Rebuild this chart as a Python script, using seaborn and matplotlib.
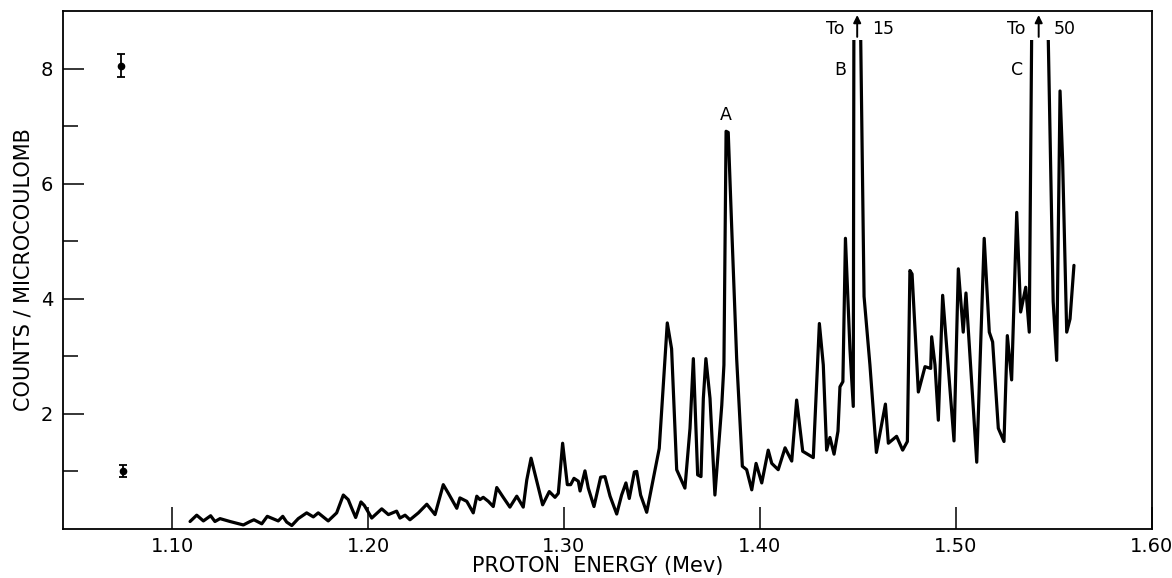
import numpy as np
import pandas as pd
import seaborn as sns
import matplotlib.pyplot as plt
from matplotlib.patches import Rectangle

# proton energy (MeV) and yield
energy = [
    1.1092, 1.1126, 1.1160, 1.1197, 1.1219, 1.1245, 1.1296, 1.1364, 1.1398, 1.1418,
    1.1458, 1.1486, 1.1542, 1.1565, 1.1585, 1.1611, 1.1644, 1.1687, 1.1721, 1.1746,
    1.1797, 1.1840, 1.1874, 1.1899, 1.1917, 1.1937, 1.1964, 1.1981, 1.2019, 1.2070,
    1.2104, 1.2146, 1.2163, 1.2189, 1.2214, 1.2257, 1.2300, 1.2342, 1.2384, 1.2410,
    1.2453, 1.2469, 1.2504, 1.2537, 1.2555, 1.2571, 1.2588, 1.2614, 1.2639, 1.2657,
    1.2690, 1.2724, 1.2759, 1.2792, 1.2810, 1.2832, 1.2861, 1.2891, 1.2925, 1.2954,
    1.2971, 1.2993, 1.3017, 1.3034, 1.3051, 1.3073, 1.3082, 1.3107, 1.3124, 1.3153,
    1.3187, 1.3209, 1.3235, 1.3269, 1.3294, 1.3316, 1.3333, 1.3359, 1.3371, 1.3391,
    1.3422, 1.3486, 1.3527, 1.3549, 1.3575, 1.3617, 1.3643, 1.3660, 1.3682, 1.3699,
    1.3711, 1.3724, 1.3745, 1.3770, 1.3805, 1.3816, 1.3827, 1.3838, 1.3856, 1.3881,
    1.3910, 1.3932, 1.3958, 1.3980, 1.4009, 1.4042, 1.4060, 1.4093, 1.4128, 1.4162,
    1.4187, 1.4218, 1.4272, 1.4303, 1.4323, 1.4340, 1.4357, 1.4378, 1.4398, 1.4408,
    1.4423, 1.4436, 1.4459, 1.4476, 1.4479, 1.4495, 1.4514, 1.4531, 1.4561, 1.4594,
    1.4640, 1.4655, 1.4697, 1.4728, 1.4752, 1.4765, 1.4776, 1.4808, 1.4842, 1.4871,
    1.4876, 1.4893, 1.4910, 1.4932, 1.4990, 1.5012, 1.5037, 1.5051, 1.5106, 1.5144,
    1.5170, 1.5187, 1.5216, 1.5245, 1.5262, 1.5284, 1.5310, 1.5330, 1.5356, 1.5374,
    1.5386, 1.5429, 1.5471, 1.5496, 1.5514, 1.5531, 1.5544, 1.5565, 1.5582, 1.5602,
]
counts = [
    0.13, 0.24, 0.14, 0.23, 0.13, 0.18, 0.13, 0.07, 0.13, 0.16,
    0.09, 0.22, 0.14, 0.22, 0.12, 0.06, 0.18, 0.28, 0.21, 0.28,
    0.14, 0.28, 0.59, 0.51, 0.36, 0.20, 0.47, 0.41, 0.19, 0.35,
    0.25, 0.31, 0.19, 0.24, 0.16, 0.28, 0.43, 0.25, 0.77, 0.62,
    0.36, 0.54, 0.48, 0.28, 0.57, 0.51, 0.55, 0.48, 0.39, 0.72,
    0.55, 0.38, 0.57, 0.38, 0.85, 1.23, 0.83, 0.42, 0.65, 0.55,
    0.62, 1.49, 0.77, 0.77, 0.88, 0.83, 0.66, 1.01, 0.71, 0.39,
    0.90, 0.91, 0.57, 0.26, 0.59, 0.80, 0.53, 0.99, 1.00, 0.59,
    0.29, 1.40, 3.58, 3.13, 1.03, 0.71, 1.75, 2.96, 0.94, 0.91,
    2.27, 2.96, 2.27, 0.59, 2.15, 2.85, 6.91, 6.89, 5.21, 2.96,
    1.09, 1.03, 0.68, 1.14, 0.80, 1.37, 1.14, 1.03, 1.41, 1.18,
    2.24, 1.35, 1.24, 3.57, 2.85, 1.37, 1.59, 1.30, 1.70, 2.47,
    2.56, 5.05, 3.13, 2.13, 8.5, 15.0, 8.5, 4.04, 2.85, 1.33,
    2.17, 1.49, 1.61, 1.37, 1.52, 4.49, 4.43, 2.38, 2.82, 2.79,
    3.34, 2.85, 1.89, 4.06, 1.53, 4.52, 3.42, 4.10, 1.16, 5.05,
    3.42, 3.25, 1.75, 1.52, 3.36, 2.59, 5.50, 3.77, 4.20, 3.42,
    8.5, 50.0, 8.5, 3.95, 2.93, 7.61, 6.42, 3.42, 3.65, 4.58,
]

# statistical error samples drawn at the left
err_energy = [1.0740, 1.0752]
err_counts = [8.05, 1.01]
err_size = [0.20, 0.10]

# peak labels
peak_names = ["A", "B", "C"]
peak_energy = [1.3827, 1.4408, 1.5310]
peak_level = [7.20, 7.98, 7.98]

# off-scale peaks: "To ↑ 15" and "To ↑ 50"
offscale_energy = [1.4496, 1.5422]
offscale_value = ["15", "50"]

xticks = [1.10, 1.20, 1.30, 1.40, 1.50, 1.60]

df = pd.DataFrame({"energy": energy, "counts": counts})

sns.set_theme(style="ticks")
plt.rcParams["font.family"] = ["DejaVu Sans"]
plt.rcParams["text.color"] = "black"
plt.rcParams["axes.labelcolor"] = "black"

fig = plt.figure(figsize=(11.72, 5.78), dpi=100)
ax = fig.add_axes([0.0538, 0.0848, 0.9291, 0.8962])

sns.lineplot(data=df, x="energy", y="counts", ax=ax, color="black",
             linewidth=2.3, sort=False, estimator=None)
line = ax.lines[-1]
line.set_solid_joinstyle("round")
line.set_solid_capstyle("round")
# peaks B and C run off the top of the chart
clip = Rectangle((1.0, 0), 1.0, 8.5, transform=ax.transData)
line.set_clip_path(clip)

ax.errorbar(err_energy, err_counts, yerr=err_size, fmt="o", color="black",
            ms=4.5, capsize=3, elinewidth=1.3, capthick=1.3)

for name, e, lv in zip(peak_names, peak_energy, peak_level):
    ax.text(e, lv, name, ha="center", va="center", fontsize=12.5)

for e, val in zip(offscale_energy, offscale_value):
    ax.text(e - 0.0112, 8.68, "To", ha="center", va="center", fontsize=12.5)
    ax.text(e + 0.0132, 8.68, val, ha="center", va="center", fontsize=12.5)
    ax.annotate("", xy=(e, 8.93), xytext=(e, 8.55),
                arrowprops=dict(arrowstyle="-|>", color="black", lw=1.4,
                                mutation_scale=11, shrinkA=0, shrinkB=0))

ax.set_xlim(1.0444, 1.60)
ax.set_ylim(0, 9)
ax.set_xticks(xticks)
ax.set_xticklabels([f"{t:.2f}" for t in xticks])
ax.set_yticks([2, 4, 6, 8])
ax.set_yticks([1, 3, 5, 7], minor=True)
ax.set_yticklabels(["2", "4", "6", "8"])

ax.tick_params(axis="both", which="both", direction="in", colors="black",
               top=False, right=False, labelsize=14, width=1.1)
ax.tick_params(axis="y", which="major", length=15, pad=7)
ax.tick_params(axis="y", which="minor", length=11)
ax.tick_params(axis="x", which="major", length=16, pad=6)

for sp in ax.spines.values():
    sp.set_visible(True)
    sp.set_linewidth(1.3)
    sp.set_color("black")

ax.set_xlabel("PROTON  ENERGY (Mev)", fontsize=15)
ax.set_ylabel("COUNTS / MICROCOULOMB", fontsize=15)
ax.xaxis.set_label_coords(0.491, -0.052)
ax.yaxis.set_label_coords(-0.027, 0.5)

fig.savefig("out.png", dpi=100)
